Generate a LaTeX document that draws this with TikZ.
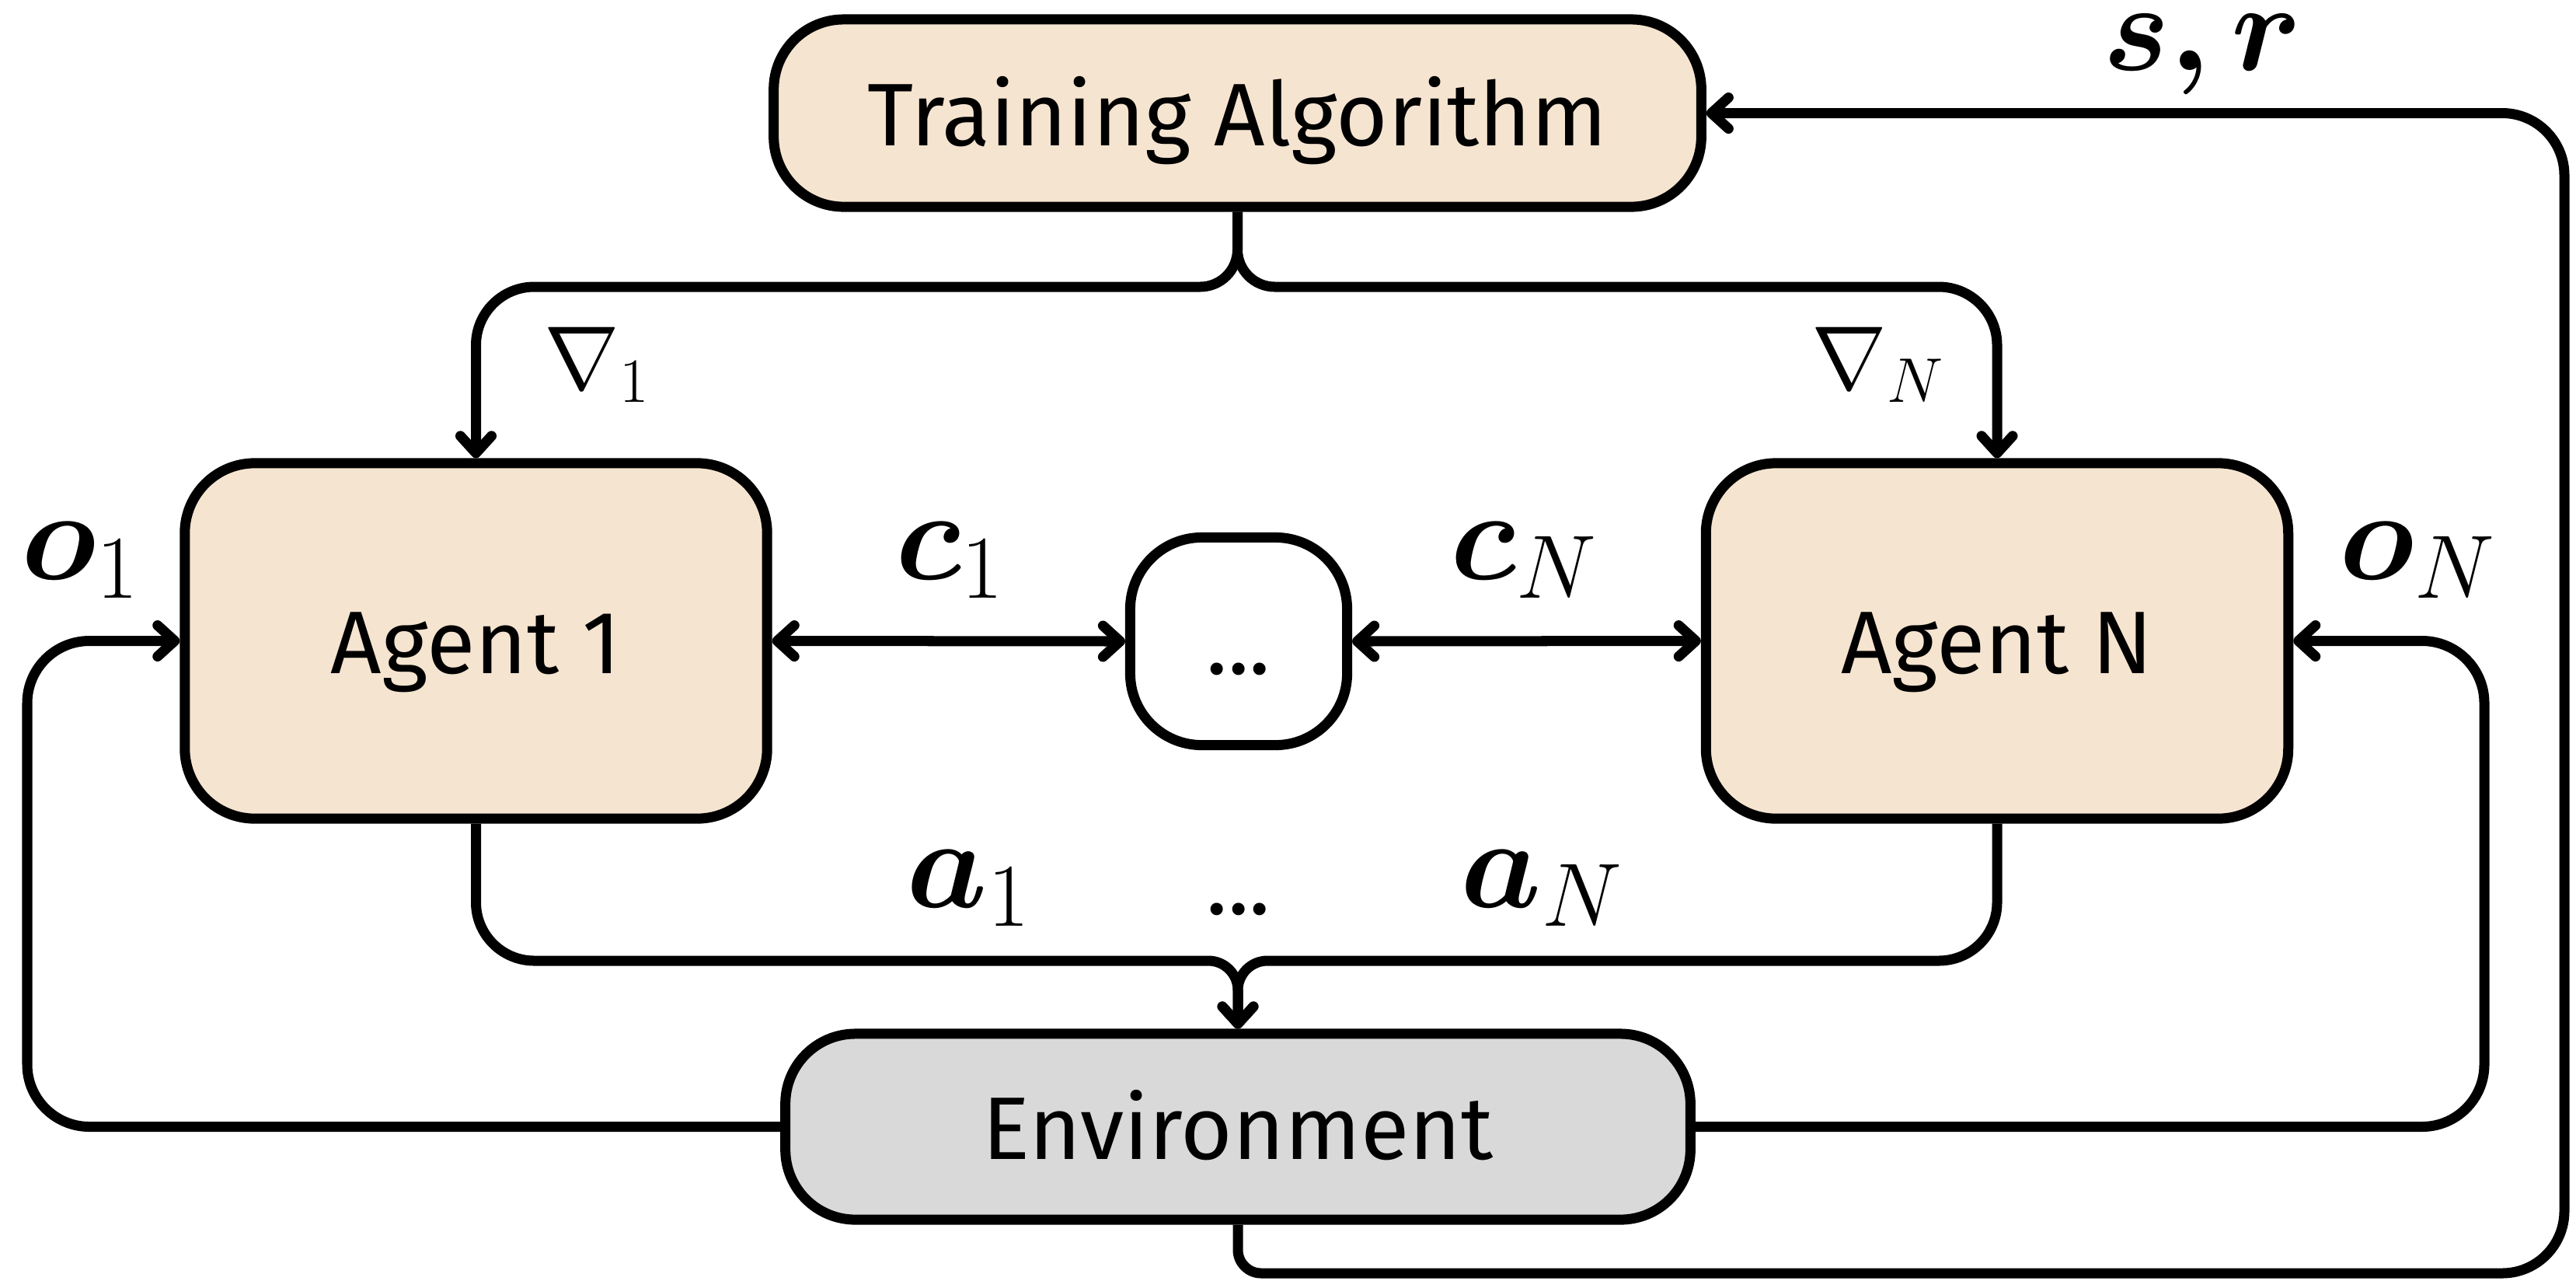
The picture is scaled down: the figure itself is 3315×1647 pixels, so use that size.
\RequirePackage{fix-cm}
\documentclass[tikz,border=0pt]{standalone}
\usepackage{bm}
\usepackage{fontspec}
\setmainfont{Fira Sans}
\usetikzlibrary{arrows.meta}
\definecolor{agentfill}{HTML}{F5E4D0}
\definecolor{envfill}{HTML}{D9D9D9}
\begin{document}
\begin{tikzpicture}[x=0.01cm, y=-0.01cm,
  box/.style={draw, line width=0.13cm, outer sep=0.065cm, inner sep=0pt,
    rounded corners=0.9cm, text height=0.83cm, text depth=0pt,
    font=\fontsize{32.5}{39}\selectfont},
  agentbox/.style={box, fill=agentfill, minimum width=7.49cm, minimum height=4.57cm},
  conn/.style={line width=0.13cm},
  arr/.style={conn, -{Straight Barb[length=0.22cm, width=0.4cm, round]}},
  darr/.style={conn, {Straight Barb[length=0.22cm, width=0.4cm, round]}-{Straight Barb[length=0.22cm, width=0.4cm, round]}},
  lbl/.style={inner sep=0pt, anchor=base west, font=\fontsize{47}{56}\selectfont},
  glbl/.style={inner sep=0pt, anchor=base west, font=\fontsize{33}{40}\selectfont},
  dotstxt/.style={inner sep=0pt, anchor=base, font=\fontsize{32.5}{39}\selectfont}]

\useasboundingbox (0,0) rectangle (3315,1647);

% boxes
\node[box, fill=agentfill, minimum width=11.93cm, minimum height=2.41cm] (train) at (1592.5,145.5) {Training Algorithm};
\node[agentbox] (agent1) at (612.5,824.5) {Agent 1};
\node[agentbox] (agentN) at (2570,824.5) {Agent N};
\node[box, fill=white, minimum width=2.79cm, minimum height=2.67cm, rounded corners=0.92cm, text height=0.85cm] (dots) at (1594,825) {...};
\node[box, fill=envfill, minimum width=11.64cm, minimum height=2.39cm] (env) at (1593,1449.5) {Environment};

% waypoints of the routed connectors
\coordinate (gL) at (1100,369);
\coordinate (gR) at (2085,369);
\coordinate (aL) at (1100,1236);
\coordinate (aR) at (2085,1236);
\coordinate (oL) at (35,1100);
\coordinate (oR) at (3197,1100);
\coordinate (fb) at (2500,1638);
\coordinate (fr) at (3300,800);

% gradients from the trainer to the agents
\draw[arr] (train.south) [rounded corners=0.48cm] |- (gL) [rounded corners=0.75cm] -| (agent1.north);
\draw[arr] (train.south) [rounded corners=0.48cm] |- (gR) [rounded corners=0.75cm] -| (agentN.north);

% actions into the environment
\draw[arr] (agent1.south) [rounded corners=0.75cm] |- (aL) [rounded corners=0.38cm] -| (env.north);
\draw[arr] (agentN.south) [rounded corners=0.75cm] |- (aR) [rounded corners=0.38cm] -| (env.north);

% observations back to the agents
\draw[arr, rounded corners=0.8cm] (env.west) -| (oL) |- (agent1.west);
\draw[arr, rounded corners=0.8cm] (env.east) -| (oR) |- (agentN.east);

% state and reward to the trainer
\draw[arr] (env.south) [rounded corners=0.3cm] |- (fb) [rounded corners=0.8cm] -| (fr) |- (train.east);

% communication
\draw[darr] (agent1.east) -- (dots.west);
\draw[darr] (dots.east) -- (agentN.west);

% labels
\node[glbl] (g1) at (700,500) {$\nabla_1$};
\node[glbl] (gN) at (2331,500) {$\nabla_N$};
\node[lbl] (o1) at (27,745) {$\bm{o}_1$};
\node[lbl] (oN) at (3010,745) {$\bm{o}_N$};
\node[lbl] (c1) at (1152,745) {$\bm{c}_1$};
\node[lbl] (cN) at (1866,745) {$\bm{c}_N$};
\node[lbl] (a1) at (1166,1167) {$\bm{a}_1$};
\node[lbl] (aN) at (1879,1167) {$\bm{a}_N$};
\node[dotstxt] (adots) at (1594,1176) {...};
\node[lbl, font=\fontsize{46}{56}\selectfont] (sr) at (2706,90) {$\bm{s,r}$};
\end{tikzpicture}
\end{document}
